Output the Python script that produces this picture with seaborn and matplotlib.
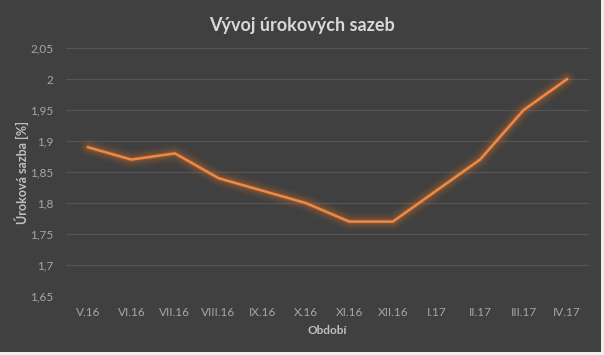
import numpy as np
import pandas as pd
import matplotlib
matplotlib.use("Agg")
import matplotlib.pyplot as plt
from matplotlib.patches import Rectangle
from matplotlib.ticker import FuncFormatter
import seaborn as sns

# data
obdobi = ["V.16", "VI.16", "VII.16", "VIII.16", "IX.16", "X.16",
          "XI.16", "XII.16", "I.17", "II.17", "III.17", "IV.17"]
sazba = [1.89, 1.87, 1.88, 1.84, 1.82, 1.80, 1.77, 1.77, 1.82, 1.87, 1.95, 2.00]
y_ticks = [1.65, 1.70, 1.75, 1.80, 1.85, 1.90, 1.95, 2.00, 2.05]

data = pd.DataFrame({"obdobi": obdobi, "sazba": sazba})
data["pos"] = np.arange(len(obdobi))

sns.set_style("dark")
plt.rcParams["font.family"] = ["Lato", "DejaVu Sans"]

bg = "#404040"
fig = plt.figure(figsize=(6.04, 3.55), dpi=100, facecolor=bg)
# light strips at the bottom and right edge of the screenshot
fig.patches.append(Rectangle((0, 0), 1, 3 / 355, transform=fig.transFigure,
                             facecolor="#eeeeee", edgecolor="none"))
fig.patches.append(Rectangle((601 / 604, 0), 3 / 604, 1, transform=fig.transFigure,
                             facecolor="#eeeeee", edgecolor="none"))
ax = fig.add_axes([66 / 604, 1 - 296 / 355, 523 / 604, 248 / 355])
ax.set_facecolor(bg)

orange = "#ee8a45"
# glow under the line
for lw, a in [(13, 0.05), (10, 0.07), (7, 0.12), (4, 0.22)]:
    sns.lineplot(data=data, x="pos", y="sazba", ax=ax, color="#d9702a",
                 linewidth=lw, alpha=a, legend=False)
sns.lineplot(data=data, x="pos", y="sazba", ax=ax, color=orange,
             linewidth=1.8, legend=False)

ax.set_xlim(-0.5, len(obdobi) - 0.5)
ax.set_ylim(1.65, 2.05)
ax.set_xticks(data["pos"])
ax.set_xticklabels(obdobi)
ax.set_yticks(y_ticks)
ax.yaxis.set_major_formatter(FuncFormatter(
    lambda v, p: ("%.2f" % v).rstrip("0").rstrip(".").replace(".", ",")))

ax.grid(axis="y", color="#555555", linewidth=0.8)
ax.grid(axis="x", visible=False)
for s in ax.spines.values():
    s.set_visible(False)
ax.tick_params(axis="both", length=0, colors="#a6a6a6", labelsize=8.5)
ax.tick_params(axis="y", pad=9)
ax.tick_params(axis="x", pad=8)

ax.set_xlabel("Období", color="#bfbfbf", fontsize=8.5, fontweight="bold", labelpad=5)
ax.set_ylabel("Úroková sazba [%]", color="#bfbfbf", fontsize=9,
              fontweight="bold", labelpad=1)
fig.text(0.5, 1 - 26 / 355, "Vývoj úrokových sazeb", ha="center", va="center",
         color="#d9d9d9", fontsize=13, fontweight="bold")

fig.savefig("out.png", dpi=100, facecolor=fig.get_facecolor())
